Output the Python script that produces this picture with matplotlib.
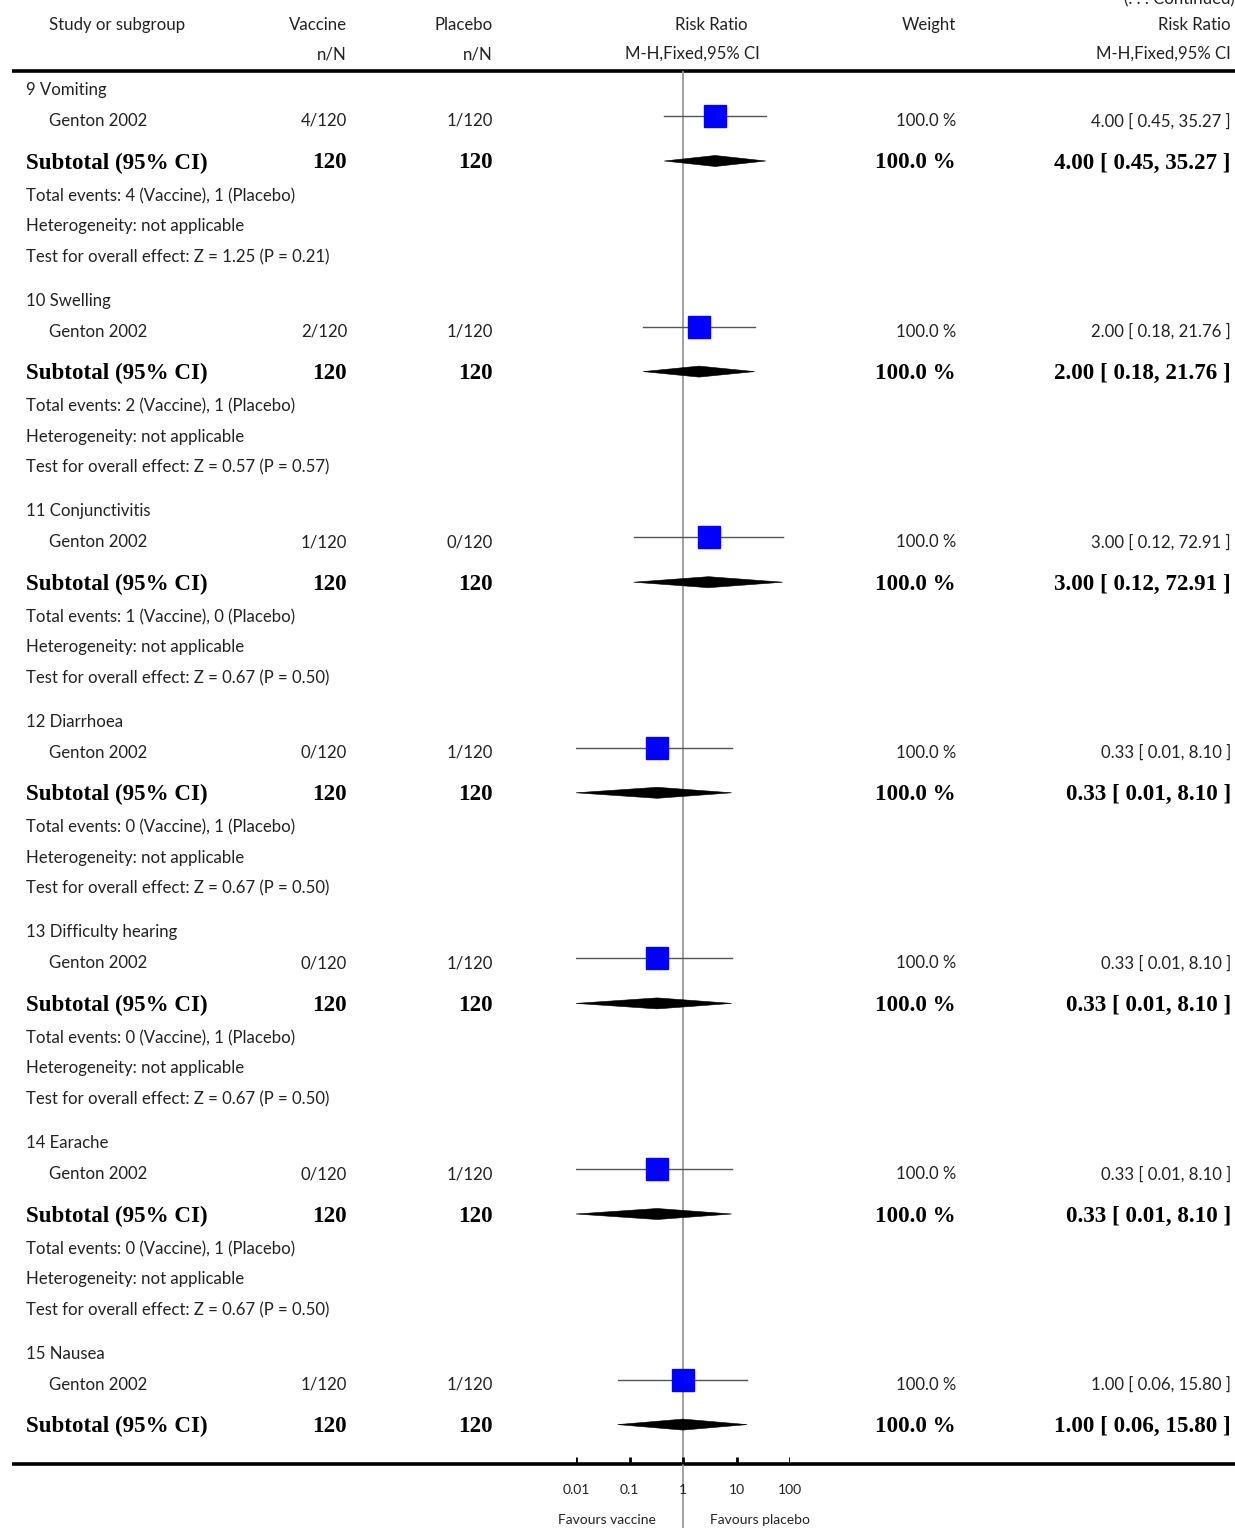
import matplotlib
matplotlib.use("Agg")
import matplotlib.pyplot as plt
from matplotlib.patches import Polygon
import numpy as np

# Subgroups of adverse events (Genton 2002 only)
groups = ["9 Vomiting", "10 Swelling", "11 Conjunctivitis", "12 Diarrhoea",
          "13 Difficulty hearing", "14 Earache", "15 Nausea"]
study = "Genton 2002"
vac_events = [4, 2, 1, 0, 0, 0, 1]
pla_events = [1, 1, 0, 1, 1, 1, 1]
vac_total = [120, 120, 120, 120, 120, 120, 120]
pla_total = [120, 120, 120, 120, 120, 120, 120]
rr = [4.00, 2.00, 3.00, 0.33, 0.33, 0.33, 1.00]
ci_low = [0.45, 0.18, 0.12, 0.01, 0.01, 0.01, 0.06]
ci_high = [35.27, 21.76, 72.91, 8.10, 8.10, 8.10, 15.80]
weights = [100.0, 100.0, 100.0, 100.0, 100.0, 100.0, 100.0]
z_vals = ["1.25", "0.57", "0.67", "0.67", "0.67", "0.67", None]
p_vals = ["0.21", "0.57", "0.50", "0.50", "0.50", "0.50", None]
tick_vals = [0.01, 0.1, 1, 10, 100]
tick_labels = ["0.01", "0.1", "1", "10", "100"]

W, H = 1235, 1528
fig = plt.figure(figsize=(W / 100, H / 100), dpi=100)

# Text layer in pixel coordinates
tx = fig.add_axes([0, 0, 1, 1])
tx.set_xlim(0, W)
tx.set_ylim(H, 0)
tx.axis("off")

SANS = ["Lato", "DejaVu Sans"]
SERIF = ["Liberation Serif", "DejaVu Serif"]
FS = 12.1
FB = 16.6
GRAY = "#222222"

def t(x, y, s, ha="left", bold=False, size=None, color=GRAY):
    if bold:
        tx.text(x, y, s, ha=ha, va="center", fontfamily=SERIF, fontweight="bold",
                fontsize=size or FB, color="black")
    else:
        tx.text(x, y, s, ha=ha, va="center", fontfamily=SANS,
                fontsize=size or FS, color=color)

# Column header
t(1235, -1, "(. . . Continued)", ha="right")
t(49, 25, "Study or subgroup")
t(347, 25, "Vaccine", ha="right")
t(493, 25, "Placebo", ha="right")
t(711, 25, "Risk Ratio", ha="center")
t(956, 25, "Weight", ha="right")
t(1231, 25, "Risk Ratio", ha="right")
t(347, 54, "n/N", ha="right")
t(493, 54, "n/N", ha="right")
t(692, 54, "M-H,Fixed,95% CI", ha="center")
t(1231, 54, "M-H,Fixed,95% CI", ha="right")
tx.plot([12, 1235], [71, 71], color="black", lw=2.6, solid_capstyle="butt")
tx.plot([12, 1235], [1464, 1464], color="black", lw=2.6, solid_capstyle="butt")

# Forest panel: log scale, y in pixel rows
x0, x1 = 576, 790
fx = fig.add_axes([x0 / W, 0, (x1 - x0) / W, 1])
fx.set_xscale("log")
fx.set_xlim(0.01, 100)
fx.set_ylim(H, 0)
fx.axis("off")
fx.patch.set_alpha(0)
fx.plot([1, 1], [72, H], color="#9a9a9a", lw=1.3, zorder=1)

base0, step = 90, 210.6
for i, g in enumerate(groups):
    yb = base0 + i * step
    ys, ysub = yb + 31, yb + 73
    t(26, yb, g)
    t(49, ys, study)
    t(347, ys, f"{vac_events[i]}/{vac_total[i]}", ha="right")
    t(493, ys, f"{pla_events[i]}/{pla_total[i]}", ha="right")
    t(956, ys, f"{weights[i]:.1f} %", ha="right")
    t(1231, ys, f"{rr[i]:.2f} [ {ci_low[i]:.2f}, {ci_high[i]:.2f} ]", ha="right")

    # study CI line and square
    fx.plot([ci_low[i], ci_high[i]], [ys - 5, ys - 5], color="#555555", lw=1.0, zorder=2)
    fx.plot([rr[i]], [ys - 5], marker="s", ms=15.8 * np.sqrt(weights[i] / 100),
            mfc="#0000ff", mec="#0000ff", zorder=3)
    fx.plot([rr[i], rr[i]], [ys - 8, ys - 2], color="#222222", lw=0.8, zorder=4)

    # subtotal diamond
    hh = 5.5
    yd = ysub - 2
    fx.add_patch(Polygon([[ci_low[i], yd], [rr[i], yd - hh], [ci_high[i], yd], [rr[i], yd + hh]],
                         closed=True, fc="black", ec="black", lw=0.4, zorder=3))

    t(26, ysub, "Subtotal (95% CI)", bold=True)
    t(347, ysub, f"{vac_total[i]}", ha="right", bold=True)
    t(493, ysub, f"{pla_total[i]}", ha="right", bold=True)
    t(956, ysub, f"{weights[i]:.1f} %", ha="right", bold=True)
    t(1231, ysub, f"{rr[i]:.2f} [ {ci_low[i]:.2f}, {ci_high[i]:.2f} ]", ha="right", bold=True)

    if z_vals[i] is not None:
        t(26, yb + 106, f"Total events: {vac_events[i]} (Vaccine), {pla_events[i]} (Placebo)")
        t(26, yb + 136, "Heterogeneity: not applicable")
        t(26, yb + 167, f"Test for overall effect: Z = {z_vals[i]} (P = {p_vals[i]})")

# Axis ticks and labels
for v, lab in zip(tick_vals, tick_labels):
    fx.plot([v, v], [1464, 1457], color="black", lw=2.0, solid_capstyle="butt", zorder=5)
    fx.text(v, 1490, lab, ha="center", va="center", fontfamily=SANS, fontsize=10, color=GRAY)
t(656, 1520, "Favours vaccine", ha="right", size=10)
t(710, 1520, "Favours placebo", ha="left", size=10)

fig.savefig("out.png", dpi=100)
